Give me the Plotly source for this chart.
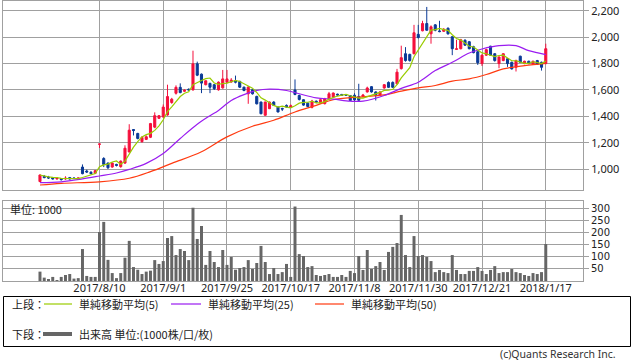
import pandas as pd
import plotly.graph_objects as go

# ---------------- data ----------------
holidays = ['2017-08-11', '2017-09-18', '2017-10-09', '2017-11-03', '2017-11-23',
            '2018-01-01', '2018-01-02', '2018-01-03', '2018-01-08']
trade_days = pd.bdate_range('2017-07-21', '2018-01-17', freq='C', holidays=holidays)
dates = [d.strftime('%Y-%m-%d') for d in trade_days]

opens = [905, 945, 940, 935, 925, 928, 925, 935, 932, 928,
         1015, 985, 975, 968, 1188, 1080, 1045, 1015, 1035, 1018,
         1045, 1130, 1300, 1270, 1208, 1225, 1241, 1318, 1385, 1395,
         1410, 1505, 1575, 1620, 1590, 1605, 1601, 1798, 1720, 1640,
         1650, 1640, 1601, 1616, 1659, 1660, 1670, 1665, 1621, 1571,
         1601, 1551, 1508, 1408, 1458, 1508, 1470, 1460, 1483, 1470,
         1600, 1558, 1526, 1500, 1468, 1515, 1501, 1496, 1533, 1546,
         1568, 1566, 1565, 1558, 1560, 1550, 1550, 1585, 1625, 1585,
         1560, 1615, 1657, 1657, 1647, 1762, 1875, 1870, 1875, 2022,
         2049, 2104, 2026, 2094, 2048, 2045, 2068, 2004, 1908, 1913,
         1977, 1966, 1928, 1890, 1800, 1864, 1932, 1875, 1800, 1823,
         1837, 1810, 1772, 1856, 1800, 1818, 1795, 1823, 1810, 1800]
highs = [958, 955, 948, 940, 938, 932, 945, 940, 938, 935,
         1035, 995, 985, 992, 1192, 1090, 1050, 1050, 1040, 1065,
         1180, 1340, 1300, 1275, 1250, 1255, 1350, 1430, 1410, 1490,
         1640, 1540, 1635, 1650, 1605, 1612, 1898, 1815, 1725, 1670,
         1655, 1645, 1665, 1752, 1752, 1690, 1709, 1670, 1626, 1630,
         1606, 1556, 1512, 1512, 1512, 1515, 1475, 1465, 1490, 1490,
         1680, 1565, 1530, 1505, 1525, 1520, 1530, 1540, 1585, 1580,
         1572, 1570, 1568, 1562, 1575, 1647, 1570, 1625, 1630, 1590,
         1590, 1645, 1665, 1665, 1760, 1936, 1925, 1875, 2094, 2094,
         2125, 2230, 2090, 2100, 2125, 2070, 2075, 2008, 1981, 1988,
         1985, 1972, 1935, 1895, 1870, 1912, 1935, 1880, 1855, 1880,
         1842, 1815, 1830, 1860, 1822, 1822, 1822, 1828, 1815, 1951]
lows = [900, 930, 925, 920, 920, 912, 918, 920, 925, 925,
        960, 970, 960, 962, 1160, 1015, 1000, 1010, 1020, 1010,
        1040, 1125, 1255, 1225, 1200, 1220, 1235, 1310, 1380, 1390,
        1405, 1495, 1565, 1575, 1585, 1595, 1595, 1705, 1576, 1635,
        1576, 1600, 1595, 1610, 1650, 1655, 1650, 1615, 1590, 1495,
        1565, 1490, 1415, 1405, 1455, 1478, 1430, 1440, 1465, 1465,
        1560, 1520, 1480, 1470, 1460, 1500, 1495, 1490, 1528, 1540,
        1555, 1555, 1555, 1515, 1510, 1515, 1545, 1580, 1580, 1520,
        1555, 1610, 1615, 1615, 1640, 1755, 1815, 1815, 1870, 1990,
        2045, 2050, 1951, 2045, 2038, 2040, 2020, 1864, 1905, 1908,
        1935, 1908, 1878, 1790, 1782, 1858, 1858, 1815, 1765, 1818,
        1775, 1755, 1740, 1805, 1795, 1795, 1790, 1790, 1747, 1795]
closes = [955, 935, 932, 925, 932, 920, 930, 925, 928, 932,
          965, 978, 965, 988, 1190, 1035, 1010, 1045, 1028, 1060,
          1158, 1295, 1292, 1232, 1240, 1245, 1345, 1405, 1405, 1470,
          1550, 1530, 1620, 1580, 1598, 1600, 1798, 1712, 1652, 1670,
          1621, 1610, 1659, 1684, 1684, 1675, 1659, 1621, 1596, 1621,
          1571, 1495, 1420, 1508, 1508, 1483, 1433, 1455, 1470, 1480,
          1566, 1528, 1485, 1475, 1516, 1508, 1526, 1533, 1571, 1577,
          1562, 1560, 1560, 1520, 1525, 1522, 1562, 1615, 1585, 1560,
          1585, 1640, 1620, 1620, 1735, 1845, 1823, 1823, 2034, 1998,
          2104, 2053, 2079, 2053, 2043, 2060, 2026, 1913, 1912, 1981,
          1940, 1913, 1883, 1807, 1864, 1906, 1864, 1823, 1850, 1875,
          1800, 1760, 1823, 1810, 1818, 1800, 1818, 1795, 1772, 1913]
volumes = [39, 14, 8, 17, 4, 17, 25, 29, 10, 12,
           133, 21, 17, 17, 204, 246, 88, 33, 12, 33,
           97, 167, 58, 47, 29, 39, 43, 87, 71, 83,
           179, 187, 108, 133, 125, 87, 305, 175, 229, 67,
           125, 79, 58, 129, 67, 100, 47, 54, 58, 87,
           50, 75, 146, 79, 29, 54, 29, 37, 71, 17,
           310, 112, 104, 58, 62, 25, 21, 25, 29, 17,
           17, 25, 17, 42, 33, 104, 46, 129, 50, 62,
           79, 46, 121, 142, 158, 275, 108, 58, 187, 104,
           108, 100, 83, 37, 46, 37, 33, 108, 46, 29,
           29, 42, 42, 58, 42, 29, 46, 62, 33, 37,
           37, 50, 37, 33, 25, 21, 33, 29, 37, 154]

# moving averages (bar index -> value)
ma25_idx = [0, 5, 10, 14, 18, 21, 25, 29, 33, 37, 40, 42, 45, 48, 51, 54, 58, 61, 65,
            69, 73, 76, 81, 85, 89, 93, 97, 101, 104, 108, 112, 115, 119]
ma25_val = [897, 903, 925, 947, 970, 997, 1043, 1118, 1232, 1340, 1405, 1445, 1520, 1565,
            1596, 1606, 1596, 1571, 1540, 1530, 1515, 1515, 1558, 1612, 1659, 1747, 1810,
            1880, 1911, 1936, 1936, 1898, 1868]
ma50_idx = [0, 5, 14, 21, 26, 31, 38, 44, 50, 55, 60, 65, 69, 75, 81, 85, 89, 93, 97,
            101, 105, 109, 114, 119]
ma50_val = [879, 892, 903, 930, 980, 1043, 1131, 1244, 1325, 1370, 1433, 1483, 1526, 1546,
            1563, 1591, 1616, 1634, 1667, 1684, 1717, 1760, 1785, 1802]

tick_idx = [14, 29, 44, 59, 74, 89, 104, 119]
tick_dates = [dates[i] for i in tick_idx]
tick_text = [f"{trade_days[i].year}/{trade_days[i].month}/{trade_days[i].day}" for i in tick_idx]

price_ticks = [1000, 1200, 1400, 1600, 1800, 2000, 2200]
vol_ticks = [50, 100, 150, 200, 250, 300]

ma5 = pd.Series(closes).rolling(5, min_periods=1).mean().tolist()

# ---------------- style ----------------
RED = '#f5103c'
BLUE = '#0a3a96'
GREEN = '#99cc00'
PURPLE = '#9a1cf0'
ORANGE = '#ff3a10'
GRAY = '#666666'
GRID = '#a0a0a0'
FONT = 'Noto Sans, Noto Sans CJK JP, sans-serif'
JFONT = 'Noto Sans CJK JP, Noto Sans, sans-serif'

W, H = 638, 362
ML, MR, MT, MB = 3, 55, 1, 81
PW, PH = W - ML - MR, H - MT - MB


def px(x):
    return (x - ML) / PW


def py(y):
    return (H - MB - y) / PH


fig = go.Figure()

fig.add_trace(go.Candlestick(
    x=dates, open=opens, high=highs, low=lows, close=closes,
    increasing=dict(line=dict(color=RED, width=1), fillcolor=RED),
    decreasing=dict(line=dict(color=BLUE, width=1), fillcolor=BLUE),
    whiskerwidth=0, xaxis='x', yaxis='y', showlegend=False, hoverinfo='skip'))

fig.add_trace(go.Scatter(x=[dates[i] for i in ma50_idx], y=ma50_val, mode='lines',
                         line=dict(color=ORANGE, width=1.2, shape='spline'),
                         xaxis='x', yaxis='y', showlegend=False, hoverinfo='skip'))
fig.add_trace(go.Scatter(x=[dates[i] for i in ma25_idx], y=ma25_val, mode='lines',
                         line=dict(color=PURPLE, width=1.2, shape='spline'),
                         xaxis='x', yaxis='y', showlegend=False, hoverinfo='skip'))
fig.add_trace(go.Scatter(x=dates, y=ma5, mode='lines',
                         line=dict(color=GREEN, width=1.2),
                         xaxis='x', yaxis='y', showlegend=False, hoverinfo='skip'))

fig.add_trace(go.Bar(x=dates, y=volumes, marker=dict(color=GRAY, line=dict(width=0)),
                     width=0.7, xaxis='x2', yaxis='y2', showlegend=False, hoverinfo='skip'))

xr = [-8.7, 127.76]
top_bottom = py(190)
vol_top = py(201)

axis_common = dict(showgrid=True, gridcolor=GRID, gridwidth=1, showline=True,
                   linecolor=GRID, linewidth=1, mirror=True, zeroline=False)

fig.update_layout(
    width=W, height=H, margin=dict(l=ML, r=MR, t=MT, b=MB),
    paper_bgcolor='white', plot_bgcolor='white',
    font=dict(family=FONT, size=11, color='#222222'),
    xaxis=dict(type='category', range=xr, domain=[0, 1], anchor='y',
               tickvals=tick_dates, ticktext=tick_text, showticklabels=False,
               ticks='', rangeslider=dict(visible=False), **axis_common),
    yaxis=dict(domain=[top_bottom, 1], anchor='x', side='right', range=[841, 2275],
               tickvals=price_ticks, tickformat=',', ticks='outside', ticklen=5,
               tickcolor=GRID, tickfont=dict(size=11), **axis_common),
    xaxis2=dict(type='category', range=xr, domain=[0, 1], anchor='y2',
                tickvals=tick_dates, ticktext=tick_text, ticks='', tickangle=0,
                ticklabelstandoff=-3, tickfont=dict(size=11), **axis_common),
    yaxis2=dict(domain=[0, vol_top], anchor='x2', side='right', range=[0, 333],
                tickvals=vol_ticks, ticks='outside', ticklen=5, tickcolor=GRID,
                tickfont=dict(family='DejaVu Sans', size=10), **axis_common),
)

# volume unit label
fig.add_annotation(x=px(8), y=py(209), xref='paper', yref='paper', text='単位: 1000',
                   showarrow=False, xanchor='left', yanchor='middle',
                   font=dict(family=JFONT, size=11, color='#222222'))

# legend box
fig.add_shape(type='rect', xref='paper', yref='paper', x0=px(3.5), x1=px(630.5),
              y0=py(296.5), y1=py(346.5), line=dict(color='black', width=1),
              fillcolor='rgba(0,0,0,0)')

row1, row2 = 304, 334
legend_items = [
    (44, 72, row1, GREEN, 1.2), (171, 201, row1, PURPLE, 1.2),
    (315, 344, row1, ORANGE, 1.2), (43, 72, row2, GRAY, 4),
]
for x0, x1, yy, col, wdt in legend_items:
    fig.add_shape(type='line', xref='paper', yref='paper', x0=px(x0), x1=px(x1),
                  y0=py(yy), y1=py(yy), line=dict(color=col, width=wdt))

legend_texts = [
    (10, row1, '上段：'), (77, row1, '単純移動平均(5)'), (206, row1, '単純移動平均(25)'),
    (349, row1, '単純移動平均(50)'), (10, row2, '下段：'),
    (77, row2, '出来高 単位:(1000株/口/枚)'),
]
for x0, yy, t in legend_texts:
    fig.add_annotation(x=px(x0), y=py(yy), xref='paper', yref='paper', text=t,
                       showarrow=False, xanchor='left', yanchor='middle',
                       font=dict(family=JFONT, size=11, color='#222222'))

fig.add_annotation(x=px(617), y=py(361.5), xref='paper', yref='paper',
                   text='(c)Quants Research Inc.', showarrow=False,
                   xanchor='right', yanchor='bottom', borderpad=0,
                   font=dict(family=FONT, size=10.5, color='#333333'))

fig.write_html('out.html', post_script="document.body.style.margin='0px';",
               config={'displayModeBar': False})
